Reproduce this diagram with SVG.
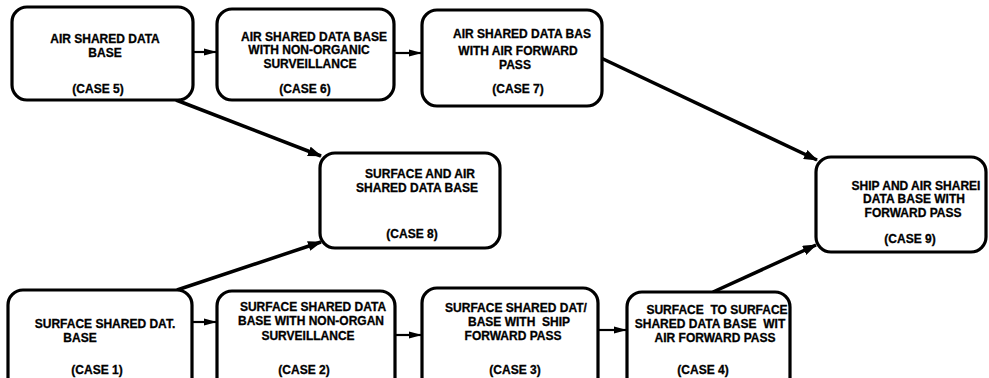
<svg xmlns="http://www.w3.org/2000/svg" width="989" height="378" viewBox="0 0 989 378">
<style>
.box{fill:#fff;stroke:#000;stroke-width:3.2}
.t{font-family:"Liberation Sans",Arial,sans-serif;font-weight:bold;font-size:12px;fill:#000;stroke:#000;stroke-width:0.3;text-anchor:middle;white-space:pre}
.c{stroke:#000;stroke-width:3.5;fill:none}
.h{stroke:#000;stroke-width:2.2;fill:none}
</style>
<defs>
<marker id="ah" markerWidth="14" markerHeight="10" refX="13" refY="5" orient="auto" markerUnits="userSpaceOnUse">
<path d="M0,0 L14,5 L0,10 Z" fill="#000"/>
</marker>
<marker id="ahs" markerWidth="13" markerHeight="8" refX="12" refY="4" orient="auto" markerUnits="userSpaceOnUse">
<path d="M0,0.5 L13,4 L0,7.5 Z" fill="#000"/>
</marker>
</defs>
<rect width="989" height="378" fill="#fff"/>
<g id="connectors">
<line class="h" x1="194" y1="52" x2="216" y2="52" marker-end="url(#ahs)"/>
<line class="h" x1="395" y1="53" x2="421" y2="53" marker-end="url(#ahs)"/>
<line class="c" x1="601" y1="58" x2="817" y2="160" marker-end="url(#ah)"/>
<line class="c" x1="176" y1="100" x2="321" y2="156" marker-end="url(#ah)"/>
<line class="c" x1="177" y1="290" x2="321" y2="242" marker-end="url(#ah)"/>
<line class="h" x1="193" y1="322" x2="216" y2="322" marker-end="url(#ahs)"/>
<line class="h" x1="396" y1="335" x2="421" y2="335" marker-end="url(#ahs)"/>
<line class="h" x1="599" y1="330" x2="626" y2="330" marker-end="url(#ahs)"/>
<line class="c" x1="713" y1="292" x2="816" y2="245" marker-end="url(#ah)"/>
</g>
<g id="case5">
<rect class="box" x="12" y="7" width="181" height="93" rx="15"/>
<text class="t" x="105" y="43">AIR SHARED DATA</text>
<text class="t" x="105" y="57">BASE</text>
<text class="t" x="98" y="93">(CASE 5)</text>
</g>
<g id="case6">
<rect class="box" x="217" y="9" width="177" height="91" rx="15"/>
<text class="t" x="314" y="41">AIR SHARED DATA BASE</text>
<text class="t" x="309" y="54">WITH NON-ORGANIC</text>
<text class="t" x="310" y="68">SURVEILLANCE</text>
<text class="t" x="305" y="93">(CASE 6)</text>
</g>
<g id="case7">
<rect class="box" x="422" y="10" width="180" height="96" rx="15"/>
<text class="t" x="522" y="38">AIR SHARED DATA BAS</text>
<text class="t" x="518" y="55">WITH AIR FORWARD</text>
<text class="t" x="515" y="69">PASS</text>
<text class="t" x="518" y="93">(CASE 7)</text>
</g>
<g id="case8">
<rect class="box" x="320" y="153" width="180" height="95" rx="15"/>
<text class="t" x="420" y="178">SURFACE AND AIR</text>
<text class="t" x="417" y="192">SHARED DATA BASE</text>
<text class="t" x="412" y="238">(CASE 8)</text>
</g>
<g id="case9">
<rect class="box" x="816" y="157" width="170" height="95" rx="15"/>
<text class="t" x="916" y="190">SHIP AND AIR SHAREI</text>
<text class="t" x="914" y="203">DATA BASE WITH</text>
<text class="t" x="913" y="217">FORWARD PASS</text>
<text class="t" x="910" y="243">(CASE 9)</text>
</g>
<g id="case1">
<rect class="box" x="8" y="290" width="184" height="110" rx="15"/>
<text class="t" x="105" y="328">SURFACE SHARED DAT.</text>
<text class="t" x="80" y="342">BASE</text>
<text class="t" x="97" y="374">(CASE 1)</text>
</g>
<g id="case2">
<rect class="box" x="217" y="291" width="178" height="110" rx="15"/>
<text class="t" x="313" y="311">SURFACE SHARED DATA</text>
<text class="t" x="311" y="325">BASE WITH NON-ORGAN</text>
<text class="t" x="308" y="340">SURVEILLANCE</text>
<text class="t" x="304" y="374">(CASE 2)</text>
</g>
<g id="case3">
<rect class="box" x="422" y="288" width="176" height="112" rx="15"/>
<text class="t" x="516" y="312">SURFACE SHARED DAT/</text>
<text class="t" x="519" y="326">BASE WITH  SHIP</text>
<text class="t" x="513" y="340">FORWARD PASS</text>
<text class="t" x="515" y="374">(CASE 3)</text>
</g>
<g id="case4">
<rect class="box" x="627" y="292" width="163" height="110" rx="15"/>
<text class="t" x="717" y="314">SURFACE  TO SURFACE</text>
<text class="t" x="710" y="328">SHARED DATA BASE  WIT</text>
<text class="t" x="715" y="342">AIR FORWARD PASS</text>
<text class="t" x="703" y="374">(CASE 4)</text>
</g>
</svg>
